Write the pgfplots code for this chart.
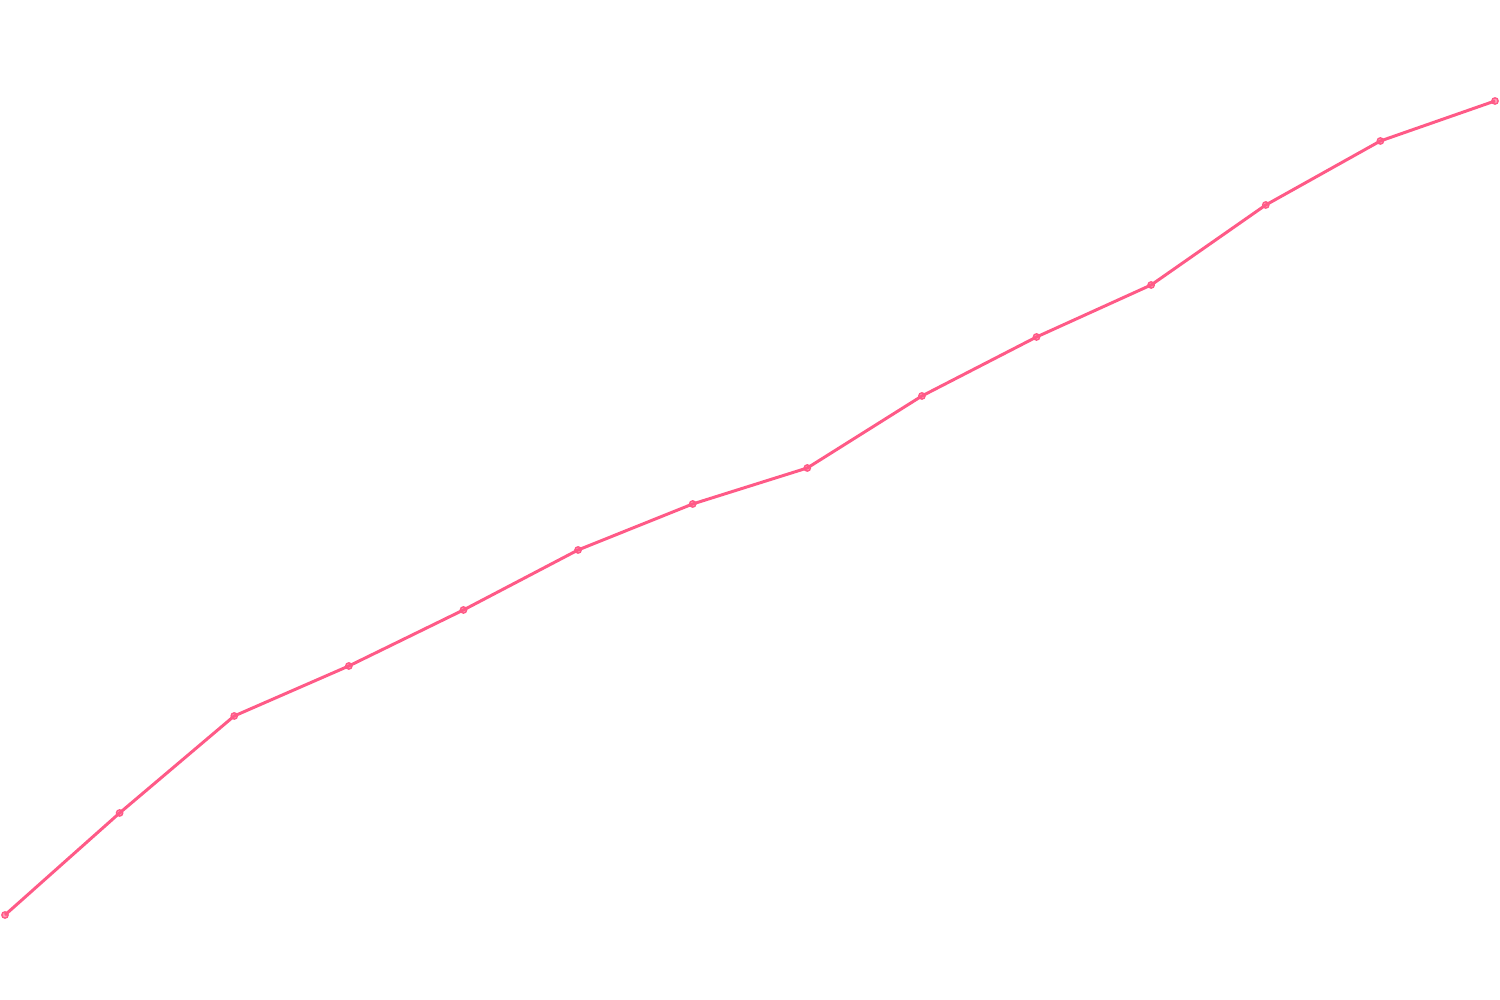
\documentclass[border=0pt]{standalone}
\usepackage{pgfplots}
\pgfplotsset{compat=1.18}
\definecolor{linepink}{HTML}{FF5A87}
\begin{document}
\begin{tikzpicture}
\begin{axis}[
  width=15cm, height=10cm, scale only axis,
  hide axis,
  xmin=-0.0436, xmax=13.0436,
  ymin=0, ymax=1000,
  clip=false,
]
% keep the full canvas as the bounding box
\path (rel axis cs:0,0) rectangle (rel axis cs:1,1);
\addplot[color=linepink, line width=0.85pt,
  mark=*, mark size=0.9pt,
  mark options={fill=linepink, fill opacity=0.6, draw=linepink, line width=0.4pt}]
coordinates {
(0,85) (1,187) (2,284) (3,334) (4,390) (5,450) (6,496)
(7,532) (8,604) (9,663) (10,715) (11,795) (12,859) (13,899)
};
\end{axis}
\end{tikzpicture}
\end{document}
